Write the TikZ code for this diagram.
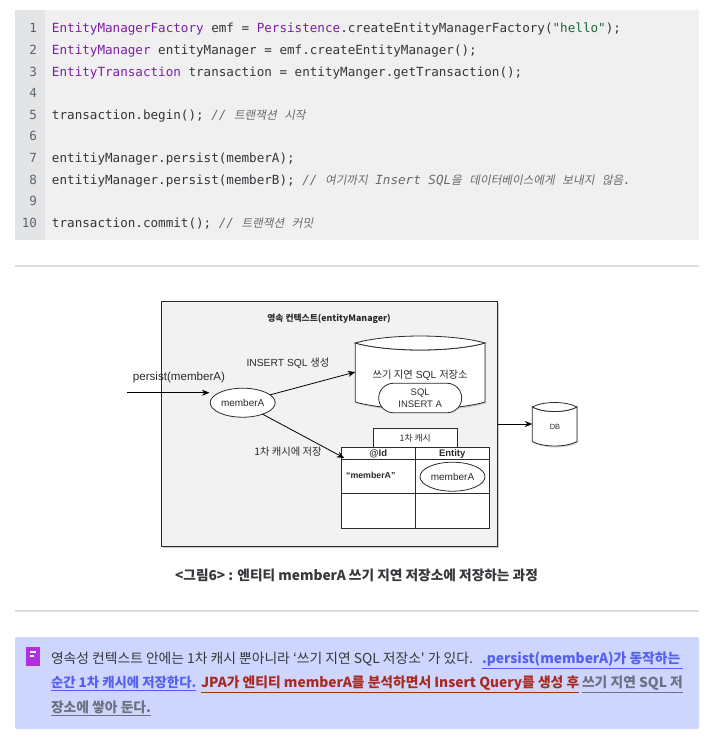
\documentclass[tikz,border=0pt]{standalone}
\usepackage{xcolor}
\usepackage{fontspec}
\setmainfont{Liberation Sans}
\setmonofont{DejaVu Sans Mono}
\newfontfamily\cjk{Noto Sans CJK KR}
\newfontfamily\cjkslant[FakeSlant=0.2]{Noto Sans CJK KR}
\newcommand{\ko}[1]{{\cjk #1}}
\newcommand{\koit}[1]{{\cjkslant\fontsize{11.6}{13}\selectfont #1}}
% left, right, top, bottom, end radius
\newcommand{\drum}[5]{%
    \path[drumline, drop shadow={shadow xshift=1pt,shadow yshift=-1.5pt,opacity=.35}]
        (#1,#3) .. controls ({#1+(#2-#1)/4},{#3+1.33*#5}) and ({#2-(#2-#1)/4},{#3+1.33*#5}) .. (#2,#3)
        -- (#2,#4) .. controls ({#2-(#2-#1)/4},{#4+1.33*#5}) and ({#1+(#2-#1)/4},{#4+1.33*#5}) .. (#1,#4) -- cycle;
    \path[drumline]
        (#1,#3) .. controls ({#1+(#2-#1)/4},{#3-1.33*#5}) and ({#2-(#2-#1)/4},{#3-1.33*#5}) .. (#2,#3)
        .. controls ({#2-(#2-#1)/4},{#3+1.33*#5}) and ({#1+(#2-#1)/4},{#3+1.33*#5}) .. (#1,#3) -- cycle;
}
\usetikzlibrary{positioning,arrows.meta,shapes.geometric,shapes.misc,shadows}
\definecolor{codebg}{HTML}{F0F0F1}
\definecolor{gutterbg}{HTML}{E3E4E6}
\definecolor{gutterfg}{HTML}{5F6368}
\definecolor{codetype}{HTML}{7B1FA2}
\definecolor{codestr}{HTML}{1B6B3A}
\definecolor{codecmt}{HTML}{6A6A6E}
\definecolor{codefg}{HTML}{333538}
\definecolor{rulecol}{HTML}{DEDEDE}
\definecolor{noticebg}{HTML}{CED6FD}
\definecolor{noticeicon}{HTML}{B02FE0}
\definecolor{noticefg}{HTML}{37383C}
\definecolor{hlblue}{HTML}{5560F2}
\definecolor{hlred}{HTML}{A82A20}
\definecolor{hlgrey}{HTML}{6D7080}
\definecolor{panelbg}{HTML}{F2F2F2}
\definecolor{inkdark}{HTML}{2B2B2B}

\begin{document}
\begin{tikzpicture}[
        x=1pt,
        y=-1pt,
        outer sep=0pt,
        codeline/.style={
            anchor=base west,
            inner sep=0pt,
            text=codefg,
            font=\ttfamily\fontsize{12.6}{15}\selectfont
        },
        lineno/.style={
            anchor=base east,
            inner sep=0pt,
            text=gutterfg,
            font=\ttfamily\fontsize{12.6}{15}\selectfont
        },
        plain/.style={
            inner sep=0pt,
            text=inkdark,
            font=\fontsize{10.3}{12}\selectfont,
            align=center
        },
        cell/.style={
            rectangle,
            draw=inkdark,
            fill=white,
            line width=0.8pt,
            inner sep=0pt
        },
        headcell/.style={
            cell,
            minimum height=11.6pt,
            text height=7.5pt,
            text depth=1pt,
            text=inkdark,
            font=\bfseries\fontsize{9.5}{11}\selectfont
        },
        entity/.style={
            ellipse,
            draw=inkdark,
            fill=white,
            line width=0.8pt,
            inner sep=0pt,
            minimum width=65pt,
            minimum height=29pt,
            text=inkdark,
            font=\fontsize{10}{12}\selectfont
        },
        drumline/.style={
            draw=inkdark,
            fill=white,
            line width=0.8pt
        },
        flow/.style={
            -{Stealth[length=7.5pt,width=6pt]},
            draw=black,
            line width=0.8pt
        },
        notice/.style={
            anchor=base west,
            inner sep=0pt,
            text=noticefg,
            font=\cjk\fontsize{13.8}{16}\selectfont
        },
        noticebold/.style={
            notice,
            font=\cjk\bfseries\fontsize{13.8}{16}\selectfont
        }
    ]
        \useasboundingbox (0,0) rectangle (715,740);

        % code block
        \fill[codebg] (15,10) rectangle (699,240);
        \fill[gutterbg] (15,10) rectangle (45,240);
        \foreach \n in {1,...,10} {
            \node[lineno] (num\n) at (37,{32.8+21.6*(\n-1)}) {\n};
        }
        \node[codeline] (line1) at (52,32.8) {\textcolor{codetype}{EntityManagerFactory} emf = \textcolor{codetype}{Persistence}.createEntityManagerFactory(\textcolor{codestr}{"hello"});};
        \node[codeline] (line2) at (52,54.4) {\textcolor{codetype}{EntityManager} entityManager = emf.createEntityManager();};
        \node[codeline] (line3) at (52,76) {\textcolor{codetype}{EntityTransaction} transaction = entityManger.getTransaction();};
        \node[codeline] (line5) at (52,119.2) {transaction.begin(); \textcolor{codecmt}{\itshape // \koit{트랜잭션} \koit{시작}}};
        \node[codeline] (line7) at (52,162.4) {entitiyManager.persist(memberA);};
        \node[codeline] (line8) at (52,184) {entitiyManager.persist(memberB); \textcolor{codecmt}{\itshape // \koit{여기까지} Insert SQL\koit{을} \koit{데이터베이스에게} \koit{보내지} \koit{않음}.}};
        \node[codeline] (line10) at (52,227.2) {transaction.commit(); \textcolor{codecmt}{\itshape // \koit{트랜잭션} \koit{커밋}}};

        % rules
        \draw[rulecol, line width=1.2pt] (15,266) -- (699,266);
        \draw[rulecol, line width=1.2pt] (15,611) -- (699,611);

        % persistence context
        \node[rectangle, draw=inkdark, fill=panelbg, line width=0.9pt, minimum width=336pt, minimum height=245pt,
            drop shadow={shadow xshift=1pt,shadow yshift=-1.5pt,opacity=.4}] (context) at (329.5,423.5) {};
        \node[plain, font=\cjk\bfseries\fontsize{8.8}{11}\selectfont] (contexttitle) at (329,319) {영속 컨텍스트(entityManager)};

        \node[entity] (memberA) at (242.7,402.7) {memberA};
        \node[plain, font=\fontsize{11.6}{13}\selectfont] (persistlabel) at (179,377) {persist(memberA)};
        \node[plain] (insertlabel) at (288,363.6) {INSERT SQL \ko{생성}};
        \node[plain] (cachelabel) at (288,452) {\ko{1차 캐시에 저장}};

        % write-behind store
        \drum{355.3}{485}{343}{402}{7}
        \node[plain, minimum width=129.7pt, minimum height=75pt] (sqlstore) at (420.2,375) {\ko{쓰기 지연} SQL \ko{저장소}};
        \node[rounded rectangle, draw=inkdark, fill=white, line width=0.8pt, minimum width=83pt, minimum height=29.5pt,
            inner sep=0pt, text=inkdark, align=center, font=\fontsize{9.5}{12}\selectfont] (sqlpill) at (420.2,398) {SQL\\INSERT A};

        % first level cache
        \node[cell, minimum width=83.7pt, minimum height=19.4pt, font=\cjk\fontsize{8.8}{11}\selectfont, text=inkdark] (cachetitle) at (415.2,438) {1차 캐시};
        \node[headcell, minimum width=74pt] (idhead) at (378.3,453.5) {@Id};
        \node[headcell, minimum width=73.7pt] (entityhead) at (452.2,453.5) {Entity};
        \node[cell, minimum width=74pt, minimum height=34.4pt] (idrow) at (378.3,476.5) {};
        \node[cell, minimum width=73.7pt, minimum height=34.4pt] (entityrow) at (452.2,476.5) {};
        \node[cell, minimum width=74pt, minimum height=34.3pt] (idempty) at (378.3,510.8) {};
        \node[cell, minimum width=73.7pt, minimum height=34.3pt] (entityempty) at (452.2,510.8) {};
        \node[plain, font=\bfseries\fontsize{8.8}{11}\selectfont] (idvalue) at (370.8,475) {“memberA”};
        \node[entity] (cachedA) at (452.5,476.7) {memberA};

        % database
        \drum{532.3}{577}{407}{441.5}{4.5}
        \node[inner sep=0pt, minimum width=44.7pt, minimum height=44pt] (db) at (554.7,424) {};
        \node[plain, font=\fontsize{7.5}{9}\selectfont] (dblabel) at (555,427) {DB};

        % connectors
        \coordinate (persistfrom) at (127,392.7);
        \coordinate (persistto) at (209.5,392.7);
        \coordinate (cacheto) at (344.3,458);
        \draw[flow] (persistfrom) -- (persistto);
        \draw[flow] (memberA.16) -- ([yshift=3pt]sqlstore.west);
        \draw[flow] (memberA.-30) -- (cacheto);
        \draw[flow] (context.east |- db.west) -- (db.west);

        % notice
        \node[rectangle, rounded corners=2pt, fill=noticebg, minimum width=684pt, minimum height=92pt] (noticebox) at (357,683) {};
        \node[rectangle, fill=noticeicon, minimum width=14pt, minimum height=18.4pt, inner sep=0pt] (noticemark) at (33,656.5) {};
        \fill[white] (30,651) rectangle (36,652.6);
        \fill[white] (30,655) rectangle (34,656.6);
        \node[notice] (note1a) at (51,663.5) {영속성 컨텍스트 안에는 1차 캐시 뿐아니라 ‘쓰기 지연 SQL 저장소' 가 있다.};
        \node[noticebold, text=hlblue] (note1b) at (482,663.5) {\underline{.persist(memberA)가 동작하는\ }};
        \node[noticebold, text=hlblue, font=\cjk\bfseries\fontsize{13.4}{16}\selectfont] (note2a) at (51,687.5) {\underline{순간 1차 캐시에 저장한다.}};
        \node[noticebold, text=hlred] (note2b) at (201,687.5) {\underline{JPA가 엔티티 memberA를 분석하면서 Insert Query를 생성 후}};
        \node[noticebold, text=hlgrey] (note2c) at (582,687.5) {\underline{쓰기 지연 SQL 저}};
        \node[noticebold, text=hlgrey] (note3) at (51,712.5) {\underline{장소에 쌓아 둔다.}};

        % caption
        \node[plain, text=noticefg, font=\cjk\bfseries\fontsize{13.7}{16}\selectfont] (caption) at (356.5,575) {<그림6> : 엔티티 memberA 쓰기 지연 저장소에 저장하는 과정};
    \end{tikzpicture}
\end{document}
